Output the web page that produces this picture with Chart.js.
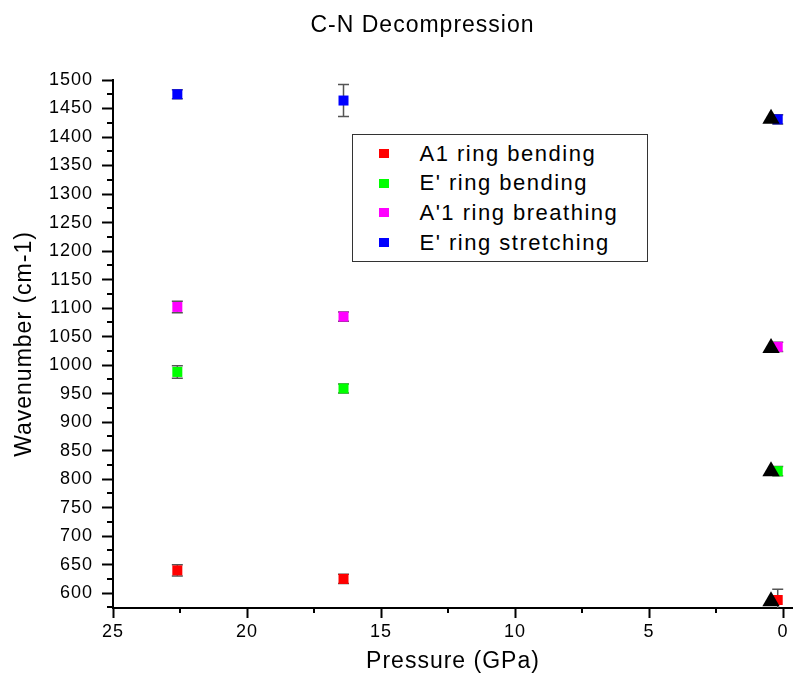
<!DOCTYPE html>
<html>
<head>
<meta charset="utf-8">
<script src="https://cdn.jsdelivr.net/npm/chart.js@4.4.1/dist/chart.umd.min.js"></script>
<style>
  html, body { margin:0; padding:0; background:#fff; }
  #wrap { position:relative; width:793px; height:683px; }
  #legend {
    position:absolute; left:352px; top:134px; width:296px; height:128px;
    box-sizing:border-box; border:1.5px solid #333; background:#fff;
    padding-top:4px; color:#000;
    font:22px 'Liberation Sans', Arial, sans-serif; letter-spacing:1.5px;
  }
  .row { display:flex; align-items:center; height:29.6px; white-space:nowrap; }
  .sw  { width:10px; height:9px; margin-left:25.5px; margin-right:31px; flex:none; }
</style>
</head>
<body>
<div id="wrap">
  <canvas id="c" width="793" height="683"></canvas>
  <div id="legend"></div>
</div>
<script>
/* ══ C-N Decompression — wavenumber vs pressure ══════════════════════════════ */

// ── Data ──────────────────────────────────────────────────────────────────────
const PRESSURE      = [22.6, 16.4, 0.2];            // GPa
const A1_BEND       = [640, 625, 588];
const A1_BEND_ERR   = [10, 8, 19];
const E_BEND        = [988, 959, 814];
const E_BEND_ERR    = [11, 8, 8];
const A1_BREATH     = [1102, 1085, 1032];
const A1_BREATH_ERR = [10, 8, 8];
const E_STRETCH     = [1475, 1464, 1431];
const E_STRETCH_ERR = [8, 28, 8];

// ambient reference (black triangles)
const REF_PRESSURE  = [0.45, 0.45, 0.45, 0.45];
const REF_WAVENUM   = [1432, 1030, 814, 586];

const SERIES_NAMES  = ['A1 ring bending', "E' ring bending", "A'1 ring breathing", "E' ring stretching"];
const SERIES_COLORS = ['#ff0000', '#00ff00', '#ff00ff', '#0000ff'];

const X_RANGE = [-0.37, 25];
const Y_RANGE = [574, 1500];
const X_STEP = 2.5, X_LABEL_STEP = 5;
const Y_STEP = 25,  Y_LABEL_STEP = 50;

const FONT = "'Liberation Sans', Arial, sans-serif";
Chart.defaults.font.family = FONT;
Chart.defaults.color = '#000';

const pts = (xs, ys) => xs.map((x, i) => ({ x, y: ys[i] }));

const series = [
  [A1_BEND, A1_BEND_ERR], [E_BEND, E_BEND_ERR],
  [A1_BREATH, A1_BREATH_ERR], [E_STRETCH, E_STRETCH_ERR],
].map(([vals, errs], i) => ({
  label: SERIES_NAMES[i],
  data: pts(PRESSURE, vals),
  errors: errs,
  pointStyle: 'rect', pointRadius: 7.07, pointHoverRadius: 7.07,
  pointBackgroundColor: SERIES_COLORS[i], pointBorderWidth: 0,
  showLine: false, order: 1,
}));

const refSet = {
  label: 'ambient',
  data: pts(REF_PRESSURE, REF_WAVENUM),
  pointStyle: 'triangle', pointRadius: 10, pointHoverRadius: 10,
  pointBackgroundColor: '#000', pointBorderWidth: 0,
  showLine: false, order: 0,
};

// ── Plugins ───────────────────────────────────────────────────────────────────
const spacing = {
  id: 'spacing',
  beforeUpdate: c => { c.ctx.letterSpacing = '1px'; },
  beforeDraw:   c => { c.ctx.letterSpacing = '1px'; },
};

const titleShift = {
  id: 'titleShift',
  afterLayout: c => { c.titleBlock.left += 52; },
};

const errorBars = {
  id: 'errorBars',
  beforeDatasetsDraw(c) {
    const { ctx, chartArea: a, scales: { y } } = c;
    ctx.save();
    ctx.beginPath(); ctx.rect(a.left, a.top, a.right - a.left, a.bottom - a.top); ctx.clip();
    ctx.strokeStyle = '#555'; ctx.lineWidth = 1.5;
    c.data.datasets.forEach((ds, i) => {
      if (!ds.errors) return;
      c.getDatasetMeta(i).data.forEach((p, j) => {
        const v = ds.data[j].y, e = ds.errors[j];
        const top = y.getPixelForValue(v + e), bot = y.getPixelForValue(v - e);
        ctx.beginPath();
        ctx.moveTo(p.x, top); ctx.lineTo(p.x, bot);
        ctx.moveTo(p.x - 5.5, top); ctx.lineTo(p.x + 5.5, top);
        ctx.moveTo(p.x - 5.5, bot); ctx.lineTo(p.x + 5.5, bot);
        ctx.stroke();
      });
    });
    ctx.restore();
  }
};

// short minor ticks (Chart.js tickLength is not scriptable)
const minorTicks = {
  id: 'minorTicks',
  afterDraw(c) {
    const { ctx, chartArea: a, scales: { x, y } } = c;
    ctx.save();
    ctx.strokeStyle = '#000'; ctx.lineWidth = 2;
    ctx.beginPath();
    x.ticks.filter(t => t.value % X_LABEL_STEP !== 0).forEach(t => {
      const px = Math.round(x.getPixelForValue(t.value));
      ctx.moveTo(px, a.bottom); ctx.lineTo(px, a.bottom + 5);
    });
    y.ticks.filter(t => t.value % Y_LABEL_STEP !== 0).forEach(t => {
      const py = Math.round(y.getPixelForValue(t.value));
      ctx.moveTo(a.left, py); ctx.lineTo(a.left - 6, py);
    });
    ctx.stroke();
    ctx.restore();
  }
};

const tickColor = step => c => (c.tick && c.tick.value % step === 0) ? '#000' : 'rgba(0,0,0,0)';

// ── Chart ─────────────────────────────────────────────────────────────────────
const chart = new Chart(document.getElementById('c'), {
  type: 'scatter',
  data: { datasets: [refSet, ...series] },
  options: {
    responsive: false, animation: false, devicePixelRatio: 1,
    layout: { padding: 0, autoPadding: false },
    plugins: {
      legend: { display: false },
      tooltip: { enabled: false },
      title: {
        display: true, text: 'C-N Decompression', color: '#000',
        font: { size: 23, weight: 'normal' },
        padding: { top: 12, bottom: 40.4 },
      },
    },
    scales: {
      x: {
        type: 'linear', reverse: true, min: X_RANGE[0], max: X_RANGE[1],
        border: { display: true, color: '#000', width: 2 },
        grid: { drawOnChartArea: false, drawTicks: true, tickLength: 10, tickWidth: 2, tickColor: tickColor(X_LABEL_STEP) },
        ticks: {
          stepSize: X_STEP, autoSkip: false, includeBounds: false, maxRotation: 0,
          padding: 3, font: { size: 18 },
          callback: v => v % X_LABEL_STEP === 0 ? String(v) : '',
        },
        title: { display: true, text: 'Pressure (GPa)', font: { size: 23 }, padding: { top: 8, bottom: 8 } },
        afterFit: s => { s.height = 75; },
      },
      y: {
        min: Y_RANGE[0], max: Y_RANGE[1],
        border: { display: true, color: '#000', width: 2 },
        grid: { drawOnChartArea: false, drawTicks: true, tickLength: 11, tickWidth: 2, tickColor: tickColor(Y_LABEL_STEP) },
        ticks: {
          stepSize: Y_STEP, autoSkip: false, includeBounds: false,
          padding: 9, font: { size: 18 },
          callback: v => v % Y_LABEL_STEP === 0 ? String(v) : '',
        },
        title: { display: true, text: 'Wavenumber (cm-1)', font: { size: 23 }, padding: { top: 11, bottom: 0 } },
        afterFit: s => { s.width = 113; },
      },
    },
  },
  plugins: [spacing, titleShift, errorBars, minorTicks],
});

// ── Legend (boxed, inside plot) ───────────────────────────────────────────────
document.getElementById('legend').innerHTML = series.map(ds => `
  <div class="row"><span class="sw" style="background:${ds.pointBackgroundColor}"></span><span>${ds.label}</span></div>`).join('');
</script>
</body>
</html>
